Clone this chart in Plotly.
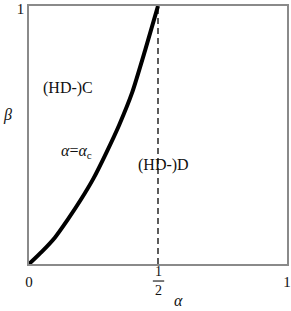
import plotly.graph_objects as go

# Data
curve_alpha = [0, 0.05, 0.10, 0.15, 0.20, 0.25, 0.30, 0.35, 0.40, 0.45, 0.5]
curve_beta = [0, 0.048, 0.102, 0.172, 0.248, 0.332, 0.432, 0.540, 0.665, 0.828, 1.0]
half_alpha = [0.5, 0.5]
half_beta = [0, 1]
x_tickvals = [0, 1]
x_ticktext = ["0", "1"]
frac_val = 0.5
frac_num = "1"
frac_den = "2"
y_tickvals = [1]
y_ticktext = ["1"]
region_labels = ["(HD-)C", "<i>α</i>=<i>α</i><sub>c</sub>", "(HD-)D"]
region_x = [0.151, 0.186, 0.523]
region_y = [0.682, 0.438, 0.384]
axis_titles = ["<i>β</i>", "<i>α</i>"]
axis_title_x = [-0.085, 0.578]
axis_title_y = [0.578, -0.14]

FONT = "Liberation Serif, Times New Roman, serif"

fig = go.Figure()
fig.add_trace(go.Scatter(x=half_alpha, y=half_beta, mode="lines",
                         line=dict(color="#333333", width=1.6, dash="6px,4px"),
                         showlegend=False, hoverinfo="skip"))
fig.add_trace(go.Scatter(x=curve_alpha, y=curve_beta, mode="lines",
                         line=dict(color="black", width=4, shape="spline", smoothing=0.6),
                         showlegend=False, hoverinfo="skip"))

for t, x, y in zip(region_labels, region_x, region_y):
    fig.add_annotation(x=x, y=y, text=t, showarrow=False,
                       font=dict(family=FONT, size=16, color="#111"))

for t, x, y in zip(axis_titles, axis_title_x, axis_title_y):
    fig.add_annotation(x=x, y=y, xref="paper", yref="paper", text=t, showarrow=False,
                       xanchor="center", yanchor="middle",
                       font=dict(family=FONT, size=16, color="#111"))

# fraction tick label 1/2
fig.add_annotation(x=frac_val, y=-0.031, xref="x", yref="paper", text=frac_num,
                   showarrow=False, xanchor="center", yanchor="middle",
                   font=dict(family=FONT, size=14, color="#111"))
fig.add_annotation(x=frac_val, y=-0.101, xref="x", yref="paper", text=frac_den,
                   showarrow=False, xanchor="center", yanchor="middle",
                   font=dict(family=FONT, size=14, color="#111"))
fig.add_shape(type="line", xref="x", yref="paper", x0=frac_val - 0.02, x1=frac_val + 0.024,
              y0=-0.066, y1=-0.066, line=dict(color="#333333", width=1.3))

axis_common = dict(showgrid=False, zeroline=False, showline=True, mirror=True,
                   linecolor="#8a8a8a", linewidth=1.5, ticks="", automargin=False,
                   ticklabeloverflow="allow")
fig.update_xaxes(range=[0, 1], tickvals=x_tickvals, ticktext=x_ticktext,
                 ticklabelstandoff=3,
                 tickfont=dict(family=FONT, size=15, color="#111"), **axis_common)
fig.update_yaxes(range=[0, 1], tickvals=y_tickvals, ticktext=y_ticktext,
                 ticklabelshift=3,
                 tickfont=dict(family=FONT, size=15, color="#111"), **axis_common)

fig.update_layout(width=291, height=311, margin=dict(l=29, r=4, t=6, b=47),
                  font=dict(family=FONT),
                  plot_bgcolor="white", paper_bgcolor="white")
fig.write_html("out.html", config={"displayModeBar": False},
               post_script="document.body.style.margin='0';document.body.style.overflow='hidden';")
